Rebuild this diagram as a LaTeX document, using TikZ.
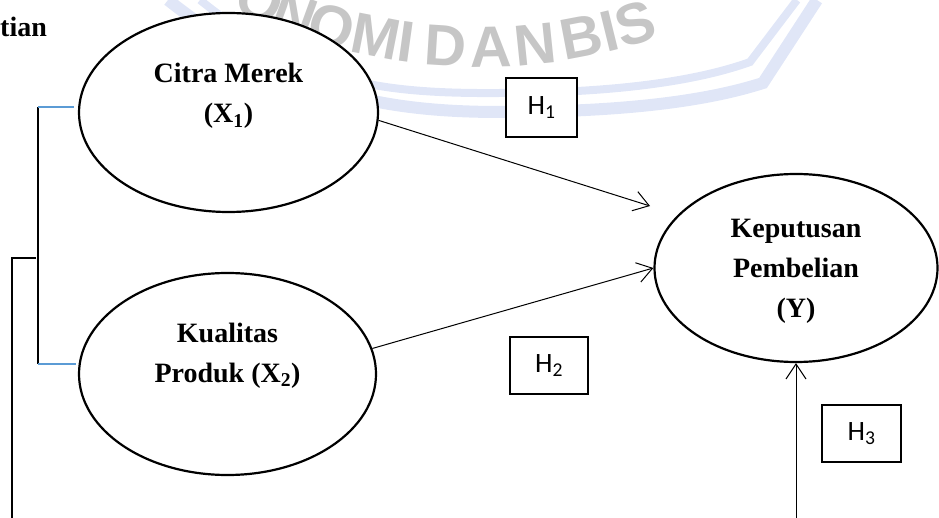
\documentclass[tikz,border=0pt]{standalone}
\usepackage{fontspec}
\setmainfont{Liberation Serif}
\newfontfamily\hfont{Carlito}
\newfontfamily\wmfont{Liberation Sans}
\usetikzlibrary{shapes.geometric, arrows.meta, calc}
\definecolor{wmblue}{RGB}{224,230,247}
\definecolor{wmgray}{RGB}{198,198,198}
\definecolor{linkblue}{RGB}{91,155,213}

\begin{document}
\begin{tikzpicture}[x=1pt, y=1pt,
  var/.style={ellipse, draw, line width=2.2pt, fill=white, inner sep=0pt, align=center,
    font=\bfseries\fontsize{28}{40}\selectfont, text depth=8pt},
  hyp/.style={draw, line width=1.6pt, fill=white, inner sep=0pt,
    font=\hfont\fontsize{28}{30}\selectfont},
  wm/.style={font=\wmfont\bfseries\fontsize{58}{58}\selectfont, text=wmgray, inner sep=0pt, anchor=base},
  arr/.style={-{Straight Barb[length=15pt, width=20pt]}, line width=1pt},
  link/.style={line width=1.2pt, linkblue}]
  \useasboundingbox (0,0) rectangle (939,-518);

  % Watermark behind everything
  \draw[wmblue, line width=8pt] (200,0) .. controls (300,-80) and (370,-94) .. (500,-93)
    .. controls (620,-93) and (700,-80) .. (750,-62) -- (797,0);
  \draw[wmblue, line width=12pt] (168,0) .. controls (280,-88) and (370,-112) .. (500,-112)
    .. controls (630,-112) and (710,-100) .. (763,-83) -- (817,0);
  \foreach \ch/\a [count=\i] in {O/246.0, N/250.0, O/254.1, M/258.9, I/262.1,
      D/266.4, A/271.2, N/275.9, B/280.8, I/283.9, S/286.7}
    \node[wm, rotate=\a-270] (wm\i) at ([shift={(480,493)}]\a:560) {\ch};

  % Title fragment
  \node[anchor=base west, inner sep=0pt, font=\bfseries\fontsize{28}{30}\selectfont] (title) at (0,-37) {tian};

  % Variables
  \node[var, minimum width=299, minimum height=199, text height=29pt] (X1) at (228.5,-112.5) {Citra Merek\\(X\textsubscript{1})};
  \node[var, minimum width=297, minimum height=202, text height=24pt] (X2) at (227.5,-374) {Kualitas\\Produk (X\textsubscript{2})};
  \node[var, minimum width=283, minimum height=188, text height=108pt] (Y) at (796,-268) {Keputusan\\Pembelian\\(Y)};

  % Hypotheses
  \node[hyp, minimum width=71, minimum height=59] (H1) at (541.5,-107.5) {H\textsubscript{1}};
  \node[hyp, minimum width=78, minimum height=57] (H2) at (549,-365.5) {H\textsubscript{2}};
  \node[hyp, minimum width=79, minimum height=57] (H3) at (861.5,-433.5) {H\textsubscript{3}};

  % Arrows into Y
  \coordinate (h1tip) at (650,-206);
  \coordinate (bottom) at (0,-518);
  \draw[arr] (X1.-3) -- (h1tip);
  \draw[arr] (X2.10) -- (Y.west);
  \draw[arr] (Y.south |- bottom) -- (Y.south);

  % Bracket joining X1 and X2
  \coordinate (bt) at (38,-107);
  \coordinate (bb) at (38,-364);
  \coordinate (bm) at (36,-258);
  \coordinate (foot) at (12,-518);
  \draw[line width=1.2pt] (bt) -- (bb);
  \draw[link] (bt) -- ($(X1.west |- bt)+(-4,0)$);
  \draw[link] (bb) -- ($(X2.west |- bb)+(-2,0)$);
  \draw[line width=1.2pt] (bm) -| (foot);

\end{tikzpicture}
\end{document}
